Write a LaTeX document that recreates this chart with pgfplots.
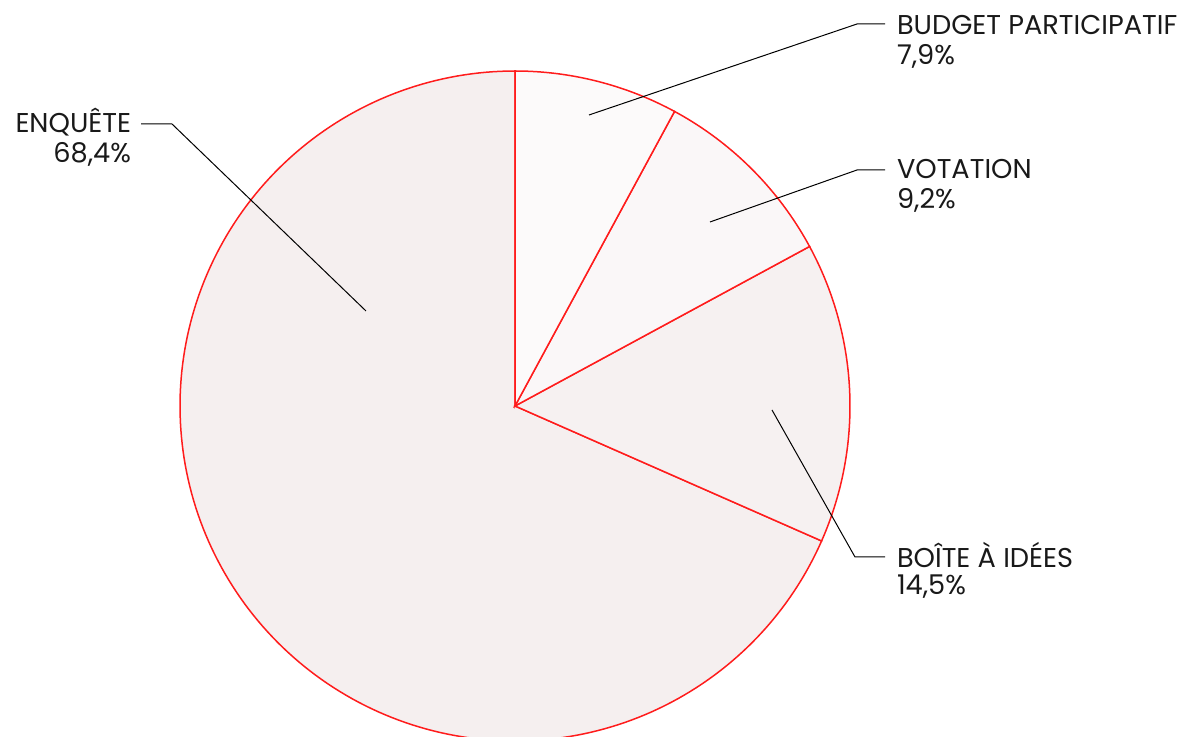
\documentclass[border=0pt]{standalone}
\usepackage{pgfplots}
\pgfplotsset{compat=1.18}
\usepackage{fontspec}
\setmainfont{Poppins}
\definecolor{edgered}{RGB}{255,28,28}
\definecolor{cBudget}{RGB}{252,250,250}
\definecolor{cVot}{RGB}{250,247,248}
\definecolor{cBoite}{RGB}{246,241,241}
\definecolor{cEnq}{RGB}{245,239,239}
% shares (percent), clockwise from 12 o'clock
\def\vBudget{7.9}
\def\vVot{9.2}
\def\vBoite{14.5}
\def\vEnq{68.4}
\pgfmathsetmacro{\aA}{90}
\pgfmathsetmacro{\aB}{90-3.6*\vBudget}
\pgfmathsetmacro{\aC}{\aB-3.6*\vVot}
\pgfmathsetmacro{\aD}{\aC-3.6*\vBoite}
\pgfmathsetmacro{\aE}{\aD-3.6*\vEnq}
\begin{document}
\begin{tikzpicture}[lbl/.style={font=\fontsize{13.6pt}{15pt}\selectfont, inner sep=0pt, outer sep=0pt, text=black!90}]
\begin{axis}[
  scale only axis, width=589.5pt, height=368.5pt,
  xmin=0, xmax=1179, ymin=0, ymax=737,
  hide axis, clip=true,
]
\def\cx{515}\def\cy{331}\def\r{335}
\addplot[draw=edgered, line width=0.75pt, fill=cEnq, domain=\aE:\aD, samples=200, variable=\t]
  ({\cx+\r*cos(\t)},{\cy+\r*sin(\t)}) -- (axis cs:\cx,\cy) -- cycle;
\addplot[draw=edgered, line width=0.75pt, fill=cBoite, domain=\aD:\aC, samples=60, variable=\t]
  ({\cx+\r*cos(\t)},{\cy+\r*sin(\t)}) -- (axis cs:\cx,\cy) -- cycle;
\addplot[draw=edgered, line width=0.75pt, fill=cVot, domain=\aC:\aB, samples=40, variable=\t]
  ({\cx+\r*cos(\t)},{\cy+\r*sin(\t)}) -- (axis cs:\cx,\cy) -- cycle;
\addplot[draw=edgered, line width=0.75pt, fill=cBudget, domain=\aB:\aA, samples=40, variable=\t]
  ({\cx+\r*cos(\t)},{\cy+\r*sin(\t)}) -- (axis cs:\cx,\cy) -- cycle;
% leader lines
\addplot[black, line width=0.5pt] coordinates {(589,622) (857,713) (885,713)};
\addplot[black, line width=0.5pt] coordinates {(710,515) (857,567) (885,567)};
\addplot[black, line width=0.5pt] coordinates {(772,327) (855,180) (885,180)};
\addplot[black, line width=0.5pt] coordinates {(366,426) (172,613) (141,613)};
% labels
\node[lbl, anchor=base west] at (axis cs:897,702) {BUDGET PARTICIPATIF};
\node[lbl, anchor=base west] at (axis cs:897,672) {7,9\%};
\node[lbl, anchor=base west] at (axis cs:897,558) {VOTATION};
\node[lbl, anchor=base west] at (axis cs:897,528) {9,2\%};
\node[lbl, anchor=base west] at (axis cs:897,169) {BOÎTE À IDÉES};
\node[lbl, anchor=base west] at (axis cs:897,142) {14,5\%};
\node[lbl, anchor=base east] at (axis cs:131,604) {ENQUÊTE};
\node[lbl, anchor=base east] at (axis cs:131,574) {68,4\%};
\end{axis}
\pgfresetboundingbox
\path (current axis.south west) rectangle (current axis.north east);
\end{tikzpicture}
\end{document}
